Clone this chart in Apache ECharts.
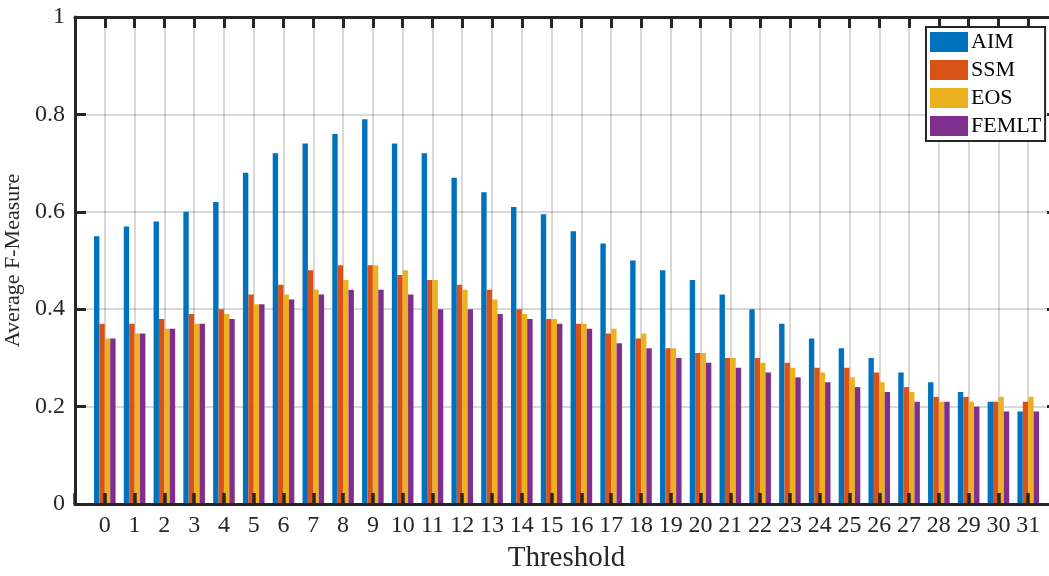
<!DOCTYPE html>
<html>
<head>
<meta charset="utf-8">
<script src="https://cdn.jsdelivr.net/npm/echarts@6/dist/echarts.min.js"></script>
<style>
html,body{margin:0;padding:0;background:#fff;}
#chart{width:1049px;height:576px;}
</style>
</head>
<body>
<div id="chart"></div>
<script>
var categories = [0,1,2,3,4,5,6,7,8,9,10,11,12,13,14,15,16,17,18,19,20,21,22,23,24,25,26,27,28,29,30,31];
var seriesNames = ['AIM','SSM','EOS','FEMLT'];
var aim   = [0.55,0.57,0.58,0.60,0.62,0.68,0.72,0.74,0.76,0.79,0.74,0.72,0.67,0.64,0.61,0.595,0.56,0.535,0.50,0.48,0.46,0.43,0.40,0.37,0.34,0.32,0.30,0.27,0.25,0.23,0.21,0.19];
var ssm   = [0.37,0.37,0.38,0.39,0.40,0.43,0.45,0.48,0.49,0.49,0.47,0.46,0.45,0.44,0.40,0.38,0.37,0.35,0.34,0.32,0.31,0.30,0.30,0.29,0.28,0.28,0.27,0.24,0.22,0.22,0.21,0.21];
var eos   = [0.34,0.35,0.36,0.37,0.39,0.41,0.43,0.44,0.46,0.49,0.48,0.46,0.44,0.42,0.39,0.38,0.37,0.36,0.35,0.32,0.31,0.30,0.29,0.28,0.27,0.26,0.25,0.23,0.21,0.21,0.22,0.22];
var femlt = [0.34,0.35,0.36,0.37,0.38,0.41,0.42,0.43,0.44,0.44,0.43,0.40,0.40,0.39,0.38,0.37,0.36,0.33,0.32,0.30,0.29,0.28,0.27,0.26,0.25,0.24,0.23,0.21,0.21,0.20,0.19,0.19];
var colors = ['#0072BD','#D95319','#EDB120','#7E2F8E'];
var yTicks = {min:0, max:1, interval:0.2};

// axis runs from -1 to 32 (one empty slot at each end)
var axisCats = [''].concat(categories.map(String)).concat(['']);
function pad(arr){ return [null].concat(arr).concat([null]); }

var font = 'Liberation Serif, Times New Roman, serif';
var ink = '#262626';
var grid = 'rgba(0,0,0,0.15)';

var chart = echarts.init(document.getElementById('chart'), null, {renderer:'canvas'});
var allData = [aim, ssm, eos, femlt];
var series = seriesNames.map(function(n, i){
  return {
    name: n, type: 'bar', xAxisIndex: 0, yAxisIndex: 0,
    data: pad(allData[i]),
    barWidth: 5.4, barGap: '0%',
    itemStyle: {color: colors[i]},
    emphasis: {disabled: true},
    z: 2
  };
});

chart.setOption({
  animation: false,
  backgroundColor: '#fff',
  color: colors,
  grid: {left: 75, top: 17, width: 983, height: 487, containLabel: false, outerBoundsMode: 'none'},
  legend: {
    data: seriesNames,
    orient: 'vertical',
    left: 926, top: 27,
    padding: [4, 4, 4, 4],
    itemWidth: 38, itemHeight: 20, itemGap: 6,
    icon: 'rect',
    backgroundColor: '#fff',
    borderColor: ink, borderWidth: 2,
    textStyle: {fontFamily: font, fontSize: 22, color: '#000', lineHeight: 20, padding: [0,0,0,-2]},
    z: 6
  },
  xAxis: [
    {
      type: 'category', data: axisCats, boundaryGap: false, position: 'bottom',
      z: 10,
      name: 'Threshold', nameLocation: 'middle', nameGap: 40,
      nameTextStyle: {fontFamily: font, fontSize: 29, color: ink},
      axisLine: {show: true, onZero: false, lineStyle: {color: ink, width: 3}},
      axisTick: {show: true, inside: true, length: 11, interval: 0, lineStyle: {color: ink, width: 3.5}},
      axisLabel: {interval: 0, fontFamily: font, fontSize: 24, color: ink, margin: 10},
      splitLine: {show: false}
    },
    {
      type: 'category', data: axisCats, boundaryGap: false, position: 'top',
      z: 0,
      axisLine: {show: true, onZero: false, lineStyle: {color: ink, width: 3}},
      axisTick: {show: true, inside: true, length: 11, interval: 0, lineStyle: {color: ink, width: 3}},
      axisLabel: {show: false},
      splitLine: {show: true, interval: 0, lineStyle: {color: grid, width: 2}}
    }
  ],
  yAxis: [
    {
      type: 'value', position: 'left', min: yTicks.min, max: yTicks.max, interval: yTicks.interval,
      z: 10,
      name: 'Average F-Measure', nameLocation: 'middle', nameGap: 44,
      nameTextStyle: {fontFamily: font, fontSize: 22, color: ink},
      axisLine: {show: true, onZero: false, lineStyle: {color: ink, width: 3}},
      axisTick: {show: true, inside: true, length: 11, lineStyle: {color: ink, width: 3}},
      axisLabel: {fontFamily: font, fontSize: 24, color: ink, margin: 10},
      splitLine: {show: false}
    },
    {
      type: 'value', position: 'right', min: yTicks.min, max: yTicks.max, interval: yTicks.interval,
      z: 0,
      axisLine: {show: true, onZero: false, lineStyle: {color: ink, width: 3}},
      axisTick: {show: true, inside: true, length: 11, lineStyle: {color: ink, width: 3}},
      axisLabel: {show: false},
      splitLine: {show: true, lineStyle: {color: grid, width: 2}}
    }
  ],
  series: series
});
</script>
</body>
</html>
